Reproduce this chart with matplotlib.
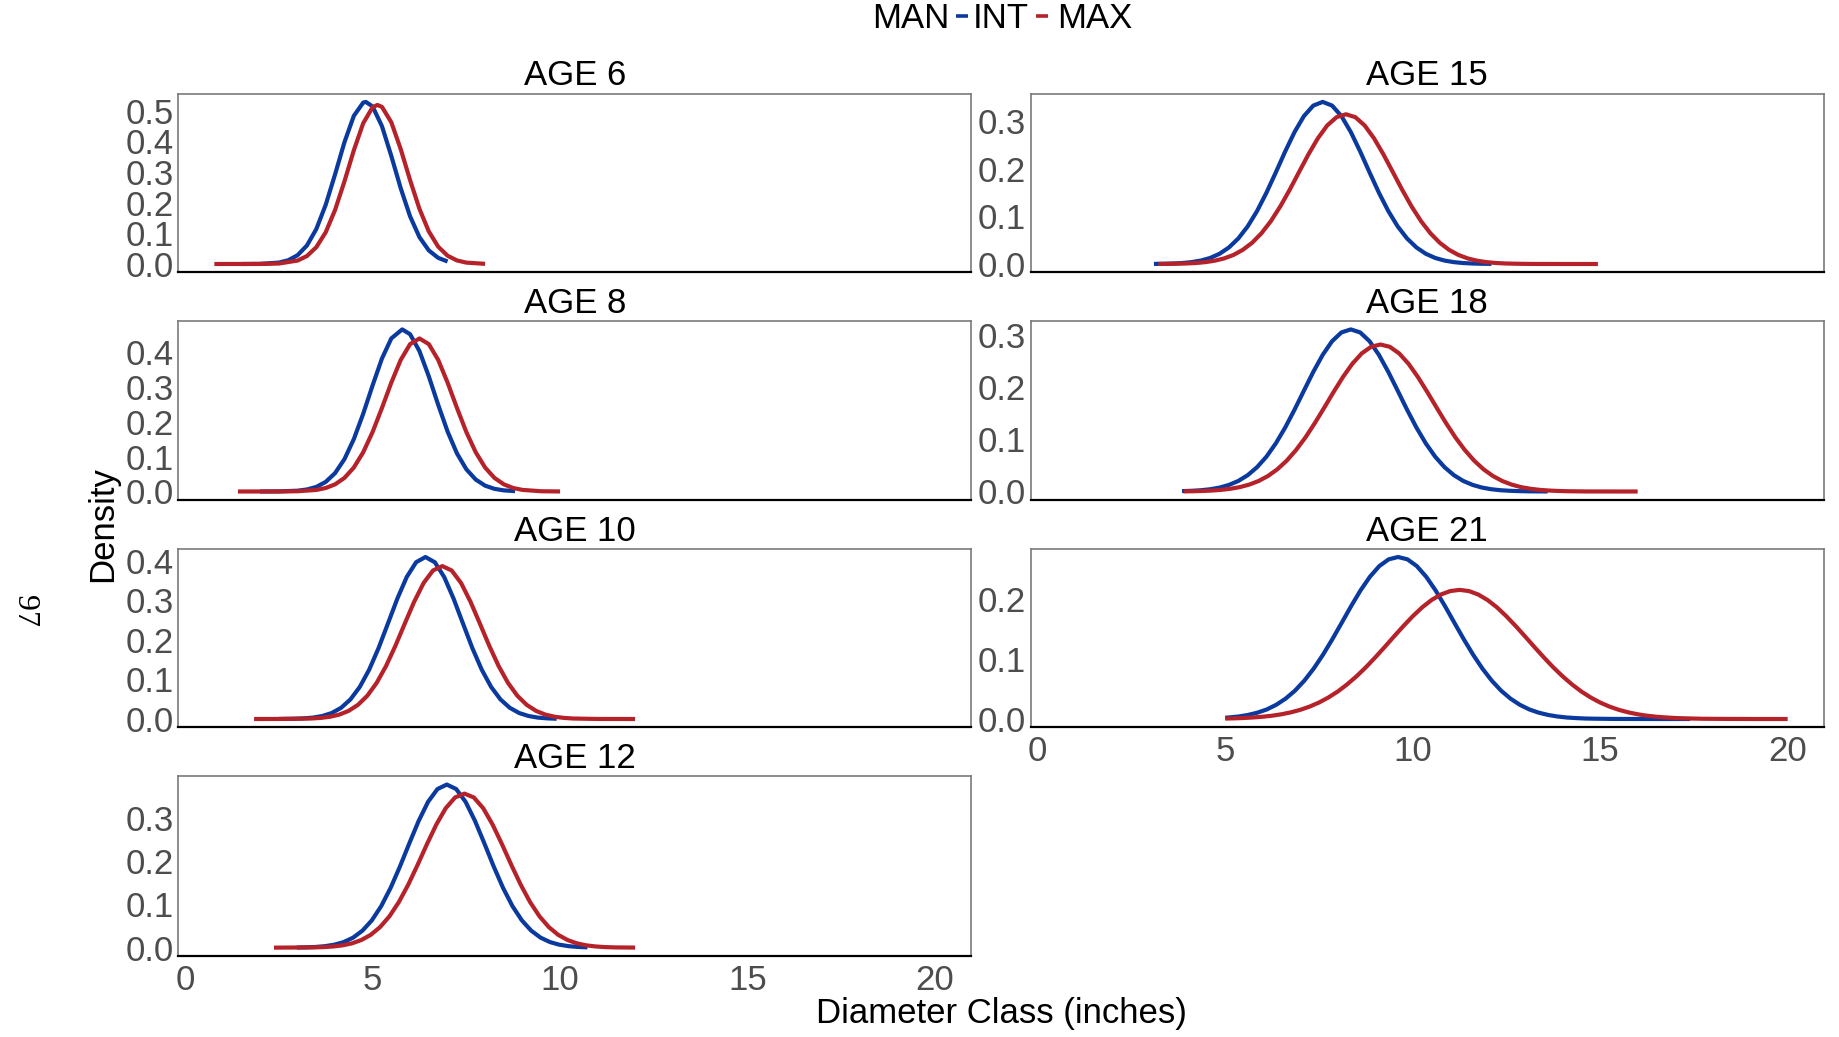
import matplotlib
matplotlib.use("Agg")
import matplotlib.pyplot as plt
from matplotlib.lines import Line2D
from matplotlib.ticker import MultipleLocator, FormatStrFormatter

plt.rcParams['font.family'] = ['Liberation Sans', 'DejaVu Sans']

BLUE = '#0b3a9f'
RED = '#b52229'

# density curves (x = diameter class in inches)
age6_int_x = [1.5, 2.0, 2.5, 2.75, 3.0, 3.25, 3.5, 3.75, 4.0, 4.25, 4.5, 4.75, 4.82, 5.0, 5.25, 5.5, 5.75, 6.0, 6.25, 6.5, 6.75, 7.0]
age6_int_y = [0.0000, 0.0005, 0.0046, 0.0122, 0.0287, 0.0605, 0.1142, 0.1932, 0.2927, 0.3975, 0.4835, 0.5267, 0.529, 0.5141, 0.4497, 0.3522, 0.2474, 0.1555, 0.0876, 0.0442, 0.0200, 0.0081]
age6_max_x = [0.78, 2.0, 2.5, 3.0, 3.25, 3.5, 3.75, 4.0, 4.25, 4.5, 4.75, 5.0, 5.13, 5.25, 5.5, 5.75, 6.0, 6.25, 6.5, 6.75, 7.0, 7.25, 7.5, 8.0]
age6_max_y = [0.0000, 0.0001, 0.0015, 0.0112, 0.0261, 0.0549, 0.1036, 0.1764, 0.2697, 0.3711, 0.4594, 0.5116, 0.519, 0.5127, 0.4623, 0.3750, 0.2737, 0.1798, 0.1061, 0.0564, 0.0270, 0.0116, 0.0045, 0.0005]

age8_int_x = [2.0, 2.5, 3.0, 3.25, 3.5, 3.75, 4.0, 4.25, 4.5, 4.75, 5.0, 5.25, 5.5, 5.79, 6.0, 6.25, 6.5, 6.75, 7.0, 7.25, 7.5, 7.75, 8.0, 8.25, 8.5, 8.8]
age8_int_y = [0.0000, 0.0003, 0.0023, 0.0058, 0.0132, 0.0275, 0.0528, 0.0929, 0.1503, 0.2231, 0.3043, 0.3815, 0.4392, 0.465, 0.4512, 0.4028, 0.3301, 0.2486, 0.1721, 0.1093, 0.0638, 0.0343, 0.0168, 0.0076, 0.0032, 0.0010]
age8_max_x = [1.41, 2.5, 3.0, 3.5, 3.75, 4.0, 4.25, 4.5, 4.75, 5.0, 5.25, 5.5, 5.75, 6.0, 6.25, 6.5, 6.75, 7.0, 7.25, 7.5, 7.75, 8.0, 8.25, 8.5, 8.75, 9.0, 9.5, 10.0]
age8_max_y = [0.0000, 0.0001, 0.0007, 0.0045, 0.0100, 0.0205, 0.0390, 0.0688, 0.1126, 0.1706, 0.2397, 0.3124, 0.3774, 0.4227, 0.439, 0.4227, 0.3774, 0.3124, 0.2397, 0.1706, 0.1126, 0.0688, 0.0390, 0.0205, 0.0100, 0.0045, 0.0007, 0.0001]

age10_int_x = [2.5, 2.91, 3.16, 3.41, 3.66, 3.91, 4.16, 4.41, 4.66, 4.91, 5.16, 5.41, 5.66, 5.91, 6.16, 6.41, 6.66, 6.91, 7.16, 7.41, 7.66, 7.91, 8.16, 8.41, 8.66, 8.91, 9.16, 9.41, 9.66, 9.91]
age10_int_y = [0.0002, 0.0006, 0.0016, 0.0035, 0.0076, 0.0151, 0.0283, 0.0496, 0.0814, 0.1250, 0.1796, 0.2418, 0.3046, 0.3593, 0.3967, 0.410, 0.3967, 0.3593, 0.3046, 0.2418, 0.1796, 0.1250, 0.0814, 0.0496, 0.0283, 0.0151, 0.0076, 0.0035, 0.0016, 0.0006]
age10_max_x = [1.84, 2.5, 3.36, 3.61, 3.86, 4.11, 4.36, 4.61, 4.86, 5.11, 5.36, 5.61, 5.86, 6.11, 6.36, 6.61, 6.86, 7.11, 7.36, 7.61, 7.86, 8.11, 8.36, 8.61, 8.86, 9.11, 9.36, 9.61, 9.86, 10.11, 10.36, 11.0, 12.0]
age10_max_y = [0.0000, 0.0001, 0.0012, 0.0027, 0.0056, 0.0110, 0.0205, 0.0358, 0.0589, 0.0916, 0.1343, 0.1856, 0.2418, 0.2970, 0.3441, 0.3758, 0.387, 0.3758, 0.3441, 0.2970, 0.2418, 0.1856, 0.1343, 0.0916, 0.0589, 0.0358, 0.0205, 0.0110, 0.0056, 0.0027, 0.0012, 0.0001, 0.0000]

age12_int_x = [2.98, 3.23, 3.48, 3.73, 3.98, 4.23, 4.48, 4.73, 4.98, 5.23, 5.48, 5.73, 5.98, 6.23, 6.48, 6.73, 6.98, 7.23, 7.48, 7.73, 7.98, 8.23, 8.48, 8.73, 8.98, 9.23, 9.48, 9.73, 9.98, 10.23, 10.48, 10.73]
age12_int_y = [0.0003, 0.0007, 0.0016, 0.0034, 0.0068, 0.0129, 0.0231, 0.0393, 0.0631, 0.0960, 0.1380, 0.1876, 0.2412, 0.2932, 0.3371, 0.3666, 0.377, 0.3666, 0.3371, 0.2932, 0.2412, 0.1876, 0.1380, 0.0960, 0.0631, 0.0393, 0.0231, 0.0129, 0.0068, 0.0034, 0.0016, 0.0007]
age12_max_x = [2.37, 3.45, 3.70, 3.95, 4.20, 4.45, 4.70, 4.95, 5.20, 5.45, 5.70, 5.95, 6.20, 6.45, 6.70, 6.95, 7.20, 7.45, 7.70, 7.95, 8.20, 8.45, 8.70, 8.95, 9.20, 9.45, 9.70, 9.95, 10.20, 10.45, 10.70, 10.95, 11.20, 11.45, 12.0]
age12_max_y = [0.0000, 0.0006, 0.0013, 0.0027, 0.0053, 0.0099, 0.0176, 0.0296, 0.0475, 0.0725, 0.1053, 0.1455, 0.1912, 0.2392, 0.2846, 0.3223, 0.3472, 0.356, 0.3472, 0.3223, 0.2846, 0.2392, 0.1912, 0.1455, 0.1053, 0.0725, 0.0475, 0.0296, 0.0176, 0.0099, 0.0053, 0.0027, 0.0013, 0.0006, 0.0001]

age15_int_x = [3.10, 3.35, 3.60, 3.85, 4.10, 4.35, 4.60, 4.85, 5.10, 5.35, 5.60, 5.85, 6.10, 6.35, 6.60, 6.85, 7.10, 7.35, 7.60,
               7.85, 8.10, 8.35, 8.60, 8.85, 9.10, 9.35, 9.60, 9.85, 10.10, 10.35, 10.60, 10.85, 11.10, 11.35, 11.60, 11.85, 12.10]
age15_int_y = [0.0002, 0.0005, 0.0010, 0.0020, 0.0039, 0.0072, 0.0127, 0.0215, 0.0348, 0.0537, 0.0791, 0.1114, 0.1499, 0.1927, 0.2367, 0.2776, 0.3112, 0.3333, 0.341,
               0.3333, 0.3112, 0.2776, 0.2367, 0.1927, 0.1499, 0.1114, 0.0791, 0.0537, 0.0348, 0.0215, 0.0127, 0.0072, 0.0039, 0.0020, 0.0010, 0.0005, 0.0002]
age15_max_x = [3.22, 3.47, 3.72, 3.97, 4.22, 4.47, 4.72, 4.97, 5.22, 5.47, 5.72, 5.97, 6.22, 6.47, 6.72, 6.97, 7.22, 7.47, 7.72, 7.97, 8.22,
               8.47, 8.72, 8.97, 9.22, 9.47, 9.72, 9.97, 10.22, 10.47, 10.72, 10.97, 11.22, 11.47, 11.72, 11.97, 12.22, 12.47, 12.72, 12.97, 13.22, 14.0, 14.94]
age15_max_y = [0.0001, 0.0003, 0.0006, 0.0011, 0.0021, 0.0039, 0.0069, 0.0117, 0.0190, 0.0298, 0.0448, 0.0649, 0.0904, 0.1212, 0.1561, 0.1935, 0.2306, 0.2643, 0.2914, 0.3089, 0.315,
               0.3089, 0.2914, 0.2643, 0.2306, 0.1935, 0.1561, 0.1212, 0.0904, 0.0649, 0.0448, 0.0298, 0.0190, 0.0117, 0.0069, 0.0039, 0.0021, 0.0011, 0.0006, 0.0003, 0.0001, 0.0000, 0.0000]

age18_int_x = [3.85, 4.10, 4.35, 4.60, 4.85, 5.10, 5.35, 5.60, 5.85, 6.10, 6.35, 6.60, 6.85, 7.10, 7.35, 7.60, 7.85, 8.10, 8.35,
               8.60, 8.85, 9.10, 9.35, 9.60, 9.85, 10.10, 10.35, 10.60, 10.85, 11.10, 11.35, 11.60, 11.85, 12.10, 12.35, 12.60, 12.85, 13.10, 13.35, 13.6]
age18_int_y = [0.0007, 0.0013, 0.0024, 0.0043, 0.0075, 0.0126, 0.0202, 0.0313, 0.0466, 0.0668, 0.0923, 0.1227, 0.1570, 0.1935, 0.2295, 0.2621, 0.2883, 0.3052, 0.311,
               0.3052, 0.2883, 0.2621, 0.2295, 0.1935, 0.1570, 0.1227, 0.0923, 0.0668, 0.0466, 0.0313, 0.0202, 0.0126, 0.0075, 0.0043, 0.0024, 0.0013, 0.0007, 0.0003, 0.0002, 0.0001]
age18_max_x = [3.90, 4.14, 4.39, 4.64, 4.89, 5.14, 5.39, 5.64, 5.89, 6.14, 6.39, 6.64, 6.89, 7.14, 7.39, 7.64, 7.89, 8.14, 8.39, 8.64, 8.89, 9.14,
               9.39, 9.64, 9.89, 10.14, 10.39, 10.64, 10.89, 11.14, 11.39, 11.64, 11.89, 12.14, 12.39, 12.64, 12.89, 13.14, 13.39, 13.64, 13.89, 14.14, 14.39, 14.64, 15.5, 16.0]
age18_max_y = [0.0003, 0.0005, 0.0010, 0.0018, 0.0031, 0.0052, 0.0084, 0.0132, 0.0201, 0.0297, 0.0426, 0.0591, 0.0796, 0.1037, 0.1312, 0.1607, 0.1908, 0.2196, 0.2450, 0.2649, 0.2776, 0.282,
               0.2776, 0.2649, 0.2450, 0.2196, 0.1908, 0.1607, 0.1312, 0.1037, 0.0796, 0.0591, 0.0426, 0.0297, 0.0201, 0.0132, 0.0084, 0.0052, 0.0031, 0.0018, 0.0010, 0.0005, 0.0003, 0.0001, 0.0000, 0.0000]

age21_int_x = [5.0, 5.36, 5.61, 5.86, 6.11, 6.36, 6.61, 6.86, 7.11, 7.36, 7.61, 7.86, 8.11, 8.36, 8.61, 8.86, 9.11, 9.36, 9.61,
               9.86, 10.11, 10.36, 10.61, 10.86, 11.11, 11.36, 11.61, 11.86, 12.11, 12.36, 12.61, 12.86, 13.11, 13.36, 13.61, 13.86, 14.11, 14.36, 14.61, 14.86, 15.11, 15.36, 15.61, 16.5, 17.4]
age21_int_y = [0.0020, 0.0042, 0.0068, 0.0106, 0.0160, 0.0237, 0.0340, 0.0473, 0.0641, 0.0843, 0.1077, 0.1337, 0.1612, 0.1890, 0.2152, 0.2380, 0.2558, 0.2671, 0.271,
               0.2671, 0.2558, 0.2380, 0.2152, 0.1890, 0.1612, 0.1337, 0.1077, 0.0843, 0.0641, 0.0473, 0.0340, 0.0237, 0.0160, 0.0106, 0.0068, 0.0042, 0.0025, 0.0015, 0.0008, 0.0005, 0.0003, 0.0001, 0.0001, 0.0000, 0.0000]
age21_max_x = [5.0, 5.25, 5.5, 5.75, 6.0, 6.25, 6.5, 6.75, 7.0, 7.25, 7.5, 7.75, 8.0, 8.25, 8.5, 8.75, 9.0, 9.25, 9.5, 9.75, 10.0, 10.25, 10.5, 10.75, 11.0, 11.25,
               11.5, 11.75, 12.0, 12.25, 12.5, 12.75, 13.0, 13.25, 13.5, 13.75, 14.0, 14.25, 14.5, 14.75, 15.0, 15.25, 15.5, 15.75, 16.0, 16.25, 16.5, 16.75, 17.0, 17.25, 17.5,
               17.75, 18.0, 18.25, 18.5, 18.75, 19.0, 19.25, 19.5, 19.75, 20.0]
age21_max_y = [0.0007, 0.0011, 0.0017, 0.0026, 0.0038, 0.0055, 0.0079, 0.0111, 0.0153, 0.0207, 0.0275, 0.0359, 0.0459, 0.0578, 0.0713, 0.0864, 0.1029, 0.1202, 0.1379, 0.1553, 0.1718, 0.1866, 0.1989, 0.2082, 0.2140, 0.216,
               0.2140, 0.2082, 0.1989, 0.1866, 0.1718, 0.1553, 0.1379, 0.1202, 0.1029, 0.0864, 0.0713, 0.0578, 0.0459, 0.0359, 0.0275, 0.0207, 0.0153, 0.0111, 0.0079, 0.0055, 0.0038, 0.0026, 0.0017, 0.0011, 0.0007,
               0.0004, 0.0003, 0.0002, 0.0001, 0.0001, 0.0000, 0.0000, 0.0000, 0.0000, 0.0000]

# title, column, row, curves
panels = [
    ("AGE 6", 0, 0, age6_int_x, age6_int_y, age6_max_x, age6_max_y),
    ("AGE 8", 0, 1, age8_int_x, age8_int_y, age8_max_x, age8_max_y),
    ("AGE 10", 0, 2, age10_int_x, age10_int_y, age10_max_x, age10_max_y),
    ("AGE 12", 0, 3, age12_int_x, age12_int_y, age12_max_x, age12_max_y),
    ("AGE 15", 1, 0, age15_int_x, age15_int_y, age15_max_x, age15_max_y),
    ("AGE 18", 1, 1, age18_int_x, age18_int_y, age18_max_x, age18_max_y),
    ("AGE 21", 1, 2, age21_int_x, age21_int_y, age21_max_x, age21_max_y),
]
bottom_panels = ["AGE 12", "AGE 21"]

W, H = 1839, 1037
def fx(px):
    return px / W
def fy(py):
    return 1 - py / H

cols = [(178.3, 971.1), (1030.9, 1823.7)]
rows = [(93.8, 272.1), (321.3, 499.6), (548.9, 727.1), (776.4, 955.8)]

all_x = [v for p in panels for arr in (p[3], p[5]) for v in arr]
xmin, xmax = min(all_x), max(all_x)
xpad = 0.05 * (xmax - xmin)

fig = plt.figure(figsize=(W / 100, H / 100), dpi=100)

for title, c, r, ix, iy, mx, my in panels:
    x0, x1 = cols[c]
    y0, y1 = rows[r]
    ax = fig.add_axes([fx(x0), fy(y1), (x1 - x0) / W, (y1 - y0) / H])
    ax.plot(ix, iy, color=BLUE, lw=3.0, solid_capstyle='butt', solid_joinstyle='round')
    ax.plot(mx, my, color=RED, lw=3.0, solid_capstyle='butt', solid_joinstyle='round')
    ax.set_xlim(xmin - xpad, xmax + xpad)
    ax.margins(y=0.05)
    ax.yaxis.set_major_locator(MultipleLocator(0.1))
    ax.yaxis.set_major_formatter(FormatStrFormatter('%.1f'))
    ax.xaxis.set_major_locator(MultipleLocator(5))
    ax.tick_params(length=0, labelsize=25, labelcolor='#4d4d4d')
    ax.tick_params(axis='y', pad=3.5)
    ax.tick_params(axis='x', pad=6)
    if title not in bottom_panels:
        ax.tick_params(axis='x', labelbottom=False)
    for s in ['top', 'left', 'right']:
        ax.spines[s].set_color('#7a7a7a')
        ax.spines[s].set_linewidth(1.2)
    ax.spines['bottom'].set_color('black')
    ax.spines['bottom'].set_linewidth(1.6)
    ax.set_title(title, fontsize=25, pad=6)

# axis labels
fig.text(fx(1001), fy(1023.4), "Diameter Class (inches)", fontsize=25,
         ha='center', va='baseline')
fig.text(fx(103), fy(524), "Density", fontsize=25, rotation=90,
         ha='center', va='center')

# legend across the top
fig.text(fx(872.6), fy(28.3), "MAN", fontsize=25, ha='left', va='baseline')
fig.add_artist(Line2D([fx(956), fx(968)], [fy(15.5), fy(15.5)],
                      transform=fig.transFigure, color=BLUE, lw=2.6, solid_capstyle='butt'))
fig.text(fx(973), fy(28.3), "INT", fontsize=25, ha='left', va='baseline')
fig.add_artist(Line2D([fx(1036), fx(1048)], [fy(15.5), fy(15.5)],
                      transform=fig.transFigure, color=RED, lw=2.6, solid_capstyle='butt'))
fig.text(fx(1056.7), fy(28.3), "MAX", fontsize=25, ha='left', va='baseline')

# page number from the scanned page
fig.text(fx(24.5), fy(611), "97", fontsize=23, family=['Liberation Serif', 'DejaVu Serif'],
         rotation=270, ha='center', va='center')

fig.savefig("out.png", dpi=100)
